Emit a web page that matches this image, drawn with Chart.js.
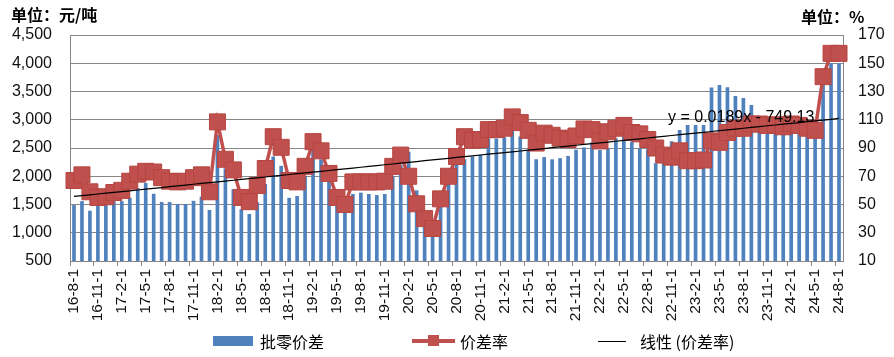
<!DOCTYPE html>
<html>
<head>
<meta charset="utf-8">
<script src="https://cdn.jsdelivr.net/npm/chart.js@4.4.1/dist/chart.umd.min.js"></script>
<style>
html,body{margin:0;padding:0;background:#fff;}
#wrap{position:relative;width:894px;height:357px;overflow:hidden;}
#c{position:absolute;left:0;top:0;}
.unit{position:absolute;font-family:"Noto Sans CJK SC","Liberation Sans",sans-serif;font-weight:bold;font-size:16px;line-height:18px;color:#000;white-space:nowrap;}
.lt{position:absolute;top:332px;font-family:"Noto Sans CJK SC","Liberation Sans",sans-serif;font-size:16px;line-height:18px;color:#000;white-space:nowrap;}
.sw{position:absolute;}
#eq{position:absolute;left:668px;top:108px;font-family:"Liberation Sans",Arial,sans-serif;font-size:16px;line-height:18px;color:#000;white-space:nowrap;}
</style>
</head>
<body>
<div id="wrap">
<canvas id="c" width="894" height="357"></canvas>
<div class="unit" style="left:11px;top:5px;">单位：元/吨</div>
<div class="unit" style="left:801px;top:7px;">单位：%</div>
<div id="eq">y = 0.0189x - 749.13</div>
<div class="sw" style="left:213px;top:336px;width:40px;height:10px;background:#4F81BD;"></div>
<div class="lt" style="left:260px;">批零价差</div>
<div class="sw" style="left:412px;top:339px;width:43px;height:4px;background:#C0504D;"></div>
<div class="sw" style="left:428px;top:335px;width:11px;height:11px;background:#C0504D;"></div>
<div class="lt" style="left:460px;">价差率</div>
<div class="sw" style="left:598px;top:341px;width:28px;height:1px;background:#000;"></div>
<div class="lt" style="left:640px;">线性 (价差率)</div>
</div>
<script>
// categories: monthly, 2016-8 .. 2024-8 (label format as in source: yy-m-1)
const startYear = 2016, startMonth = 8, monthCount = 97;
const categories = [];
const monthDates = [];
for (let k = 0; k < monthCount; k++) {
  const t = (startMonth - 1) + k;
  const y = startYear + Math.floor(t / 12);
  const m = (t % 12) + 1;
  categories.push(String(y).slice(2) + '-' + m + '-1');
  monthDates.push([y, m]);
}

// 批零价差 (元/吨)
const spread = [
  1490, 1560, 1390, 1490, 1490, 1560, 1560, 1620, 1790, 1880,
  1690, 1545, 1545, 1510, 1510, 1565, 1640, 1403, 2730, 2140,
  1770, 1415, 1332, 1540, 1863, 2350, 2185, 1618, 1650, 2010,
  2465, 2300, 1920, 1480, 1350, 1686, 1710, 1686, 1668, 1686,
  2005, 2200, 2435, 1750, 1150, 940, 1530, 1900, 2200, 2300,
  2350, 2380, 2670, 2670, 2690, 2800, 2705, 2450, 2300, 2340,
  2300, 2320, 2360, 2470, 2510, 2600, 2465, 2495, 2670, 3010,
  2610, 2495, 2480, 2230, 2300, 2620, 2820, 2905, 2905, 2905,
  3570, 3615, 3575, 3420, 3385, 3260, 2950, 2770, 2850, 2820,
  2850, 3050, 2850, 2850, 3650, 4000, 4000
];

// 价差率 (%)
const spreadRate = [
  67, 71, 59, 55, 55.5, 58.5, 60, 66.5, 71.5, 73.5,
  73, 69, 66.5, 66, 66.5, 69, 71, 59, 108.5, 82,
  74.5, 55, 52, 63.5, 75.5, 98, 90.5, 67, 66, 77,
  94.5, 88, 72, 55, 50, 66, 66, 66, 66, 66.5,
  77, 85, 70, 50.5, 40, 33, 54, 70, 84, 98,
  95.5, 96, 103, 103, 104, 112, 108, 102.5, 93.5, 100.5,
  99, 97, 96, 98.5, 103.5, 103, 95, 101.5, 104, 106,
  101, 100, 96, 90, 85, 83.5, 88, 81, 81, 81.5,
  95, 94, 101, 104, 104, 107, 107, 106, 106.5, 105,
  107, 106, 104, 102.5, 140.5, 157, 157
];

// tick values
const leftTicks = [500, 1000, 1500, 2000, 2500, 3000, 3500, 4000, 4500];
const rightTicks = [10, 30, 50, 70, 90, 110, 130, 150, 170];

// linear trendline as printed on the chart: y = 0.0189x - 749.13 (x = Excel date serial)
const trendSlope = 0.0189, trendIntercept = -749.13;
const excelEpoch = Date.UTC(1899, 11, 30);
const trend = monthDates.map(([y, m]) => {
  const serial = (Date.UTC(y, m - 1, 1) - excelEpoch) / 86400000;
  return trendSlope * serial + trendIntercept;
});

const tickFont = { family: "'Liberation Sans', Arial, sans-serif", size: 16 };
const gridGrey = '#878787';

new Chart(document.getElementById('c'), {
  data: {
    labels: categories,
    datasets: [
      {
        type: 'line', label: '线性 (价差率)', data: trend, yAxisID: 'y1',
        borderColor: '#000', borderWidth: 1.2, pointRadius: 0, order: 0, clip: false
      },
      {
        type: 'line', label: '价差率', data: spreadRate, yAxisID: 'y1',
        borderColor: '#C0504D', borderWidth: 3.5, pointStyle: 'rect', pointRadius: 11.3,
        pointBackgroundColor: '#C0504D', pointBorderColor: '#B64541', pointBorderWidth: 1,
        order: 1, clip: false, tension: 0
      },
      {
        type: 'bar', label: '批零价差', data: spread, yAxisID: 'y',
        backgroundColor: '#4F81BD', borderWidth: 0,
        barPercentage: 0.46, categoryPercentage: 1.0, order: 2
      }
    ]
  },
  options: {
    responsive: false,
    animation: false,
    events: [],
    layout: { padding: { top: 35, left: 0, right: 0, bottom: 0 } },
    plugins: { legend: { display: false }, tooltip: { enabled: false }, title: { display: false } },
    scales: {
      x: {
        type: 'category',
        offset: true,
        grid: {
          offset: true, drawOnChartArea: false, drawTicks: true, tickLength: 5,
          color: (ctx) => (ctx.index % 3 === 0 && ctx.index < categories.length) ? gridGrey : 'rgba(0,0,0,0)'
        },
        border: { display: true, color: gridGrey },
        ticks: {
          autoSkip: false, maxRotation: 90, minRotation: 90, padding: 3,
          font: { family: "'Liberation Sans', Arial, sans-serif", size: 15.5 }, color: '#111',
          callback: (v, i) => (i % 3 === 0 ? categories[i] : '')
        },
        afterFit: (s) => { s.height = 96; }
      },
      y: {
        position: 'left',
        min: leftTicks[0], max: leftTicks[leftTicks.length - 1],
        afterBuildTicks: (s) => { s.ticks = leftTicks.map(v => ({ value: v })); },
        ticks: {
          font: tickFont, color: '#111', padding: 18,
          callback: (v) => Number(v).toLocaleString('en-US')
        },
        grid: { color: gridGrey, drawTicks: false, lineWidth: 1 },
        border: { display: true, color: gridGrey },
        afterFit: (s) => { s.width = 70; }
      },
      y1: {
        position: 'right',
        min: rightTicks[0], max: rightTicks[rightTicks.length - 1],
        afterBuildTicks: (s) => { s.ticks = rightTicks.map(v => ({ value: v })); },
        ticks: { font: tickFont, color: '#111', padding: 15 },
        grid: { drawOnChartArea: false, drawTicks: false },
        border: { display: true, color: gridGrey },
        afterFit: (s) => { s.width = 51; }
      }
    }
  }
});
</script>
</body>
</html>
